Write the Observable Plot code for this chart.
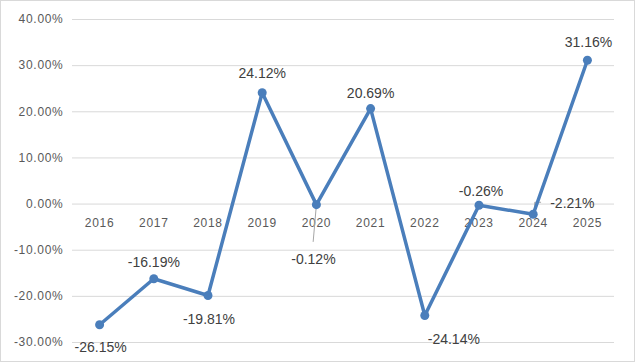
<!DOCTYPE html>
<html>
<head>
<meta charset="utf-8">
<script src="https://cdn.jsdelivr.net/npm/d3@7"></script>
<script src="https://cdn.jsdelivr.net/npm/@observablehq/plot@0.6"></script>
<style>
  body { margin: 0; background: #fff; }
  #chart svg { outline: 1px solid #d9d9d9; outline-offset: -1px; display: block; }
  .ticklbl text { letter-spacing: 0.7px; }
</style>
</head>
<body>
<div id="chart"></div>
<script>
const years = ["2016","2017","2018","2019","2020","2021","2022","2023","2024","2025"];
const values = [-26.15, -16.19, -19.81, 24.12, -0.12, 20.69, -24.14, -0.26, -2.21, 31.16];
const yTicks = [-30, -20, -10, 0, 10, 20, 30, 40];

const data = years.map((year, i) => ({year, value: values[i]}));

// label placement (pixel offsets from each point)
const labelDx = [1, 0, 1, 0, -3, 0, 29, 2, 17, 1];
const labelDy = [23, -16, 24, -19, 55, -15, 24, -14, -11, -18];
const labelAnchor = ["middle","middle","middle","middle","middle","middle","middle","middle","start","middle"];
const labels = data.map((d, i) => ({...d, dx: labelDx[i], dy: labelDy[i], anchor: labelAnchor[i]}));

const lineColor = "#4a7ebb";
const font = "'Liberation Sans', Arial, sans-serif";

const textMarks = labels.map(d =>
  Plot.text([d], {x: "year", y: "value", text: v => v.value.toFixed(2) + "%",
    dx: d.dx, dy: d.dy, textAnchor: d.anchor, fill: "#404040", fontSize: 14})
);

const plot = Plot.plot({
  width: 635,
  height: 362,
  marginLeft: 72,
  marginRight: 21,
  marginTop: 19,
  marginBottom: 20,
  style: {fontFamily: font, background: "#fff"},
  x: {type: "point", domain: years, padding: 0.5, round: false, axis: null},
  y: {domain: [-30, 40], axis: null},
  marks: [
    Plot.ruleY(yTicks, {stroke: "#d9d9d9", strokeWidth: 1}),
    Plot.axisY({ticks: yTicks, tickSize: 0, tickPadding: 9, tickFormat: d => d.toFixed(2) + "%",
      fill: "#595959", fontSize: 12, label: null, className: "ticklbl"}),
    Plot.text(years, {x: d => d, y: 0, dy: 19, text: d => d, fill: "#595959", fontSize: 12, className: "ticklbl"}),
    Plot.vector(data.filter(d => d.year === "2020"), {x: "year", y: "value", anchor: "start",
      length: 37, rotate: 185, stroke: "#a6a6a6", strokeWidth: 1,
      shape: {draw(ctx, l) { ctx.moveTo(0, -4); ctx.lineTo(0, -l); }}}),
    Plot.vector(data.filter(d => d.year === "2024"), {x: "year", y: "value", anchor: "start",
      length: 12, rotate: 0, stroke: "#a6a6a6", strokeWidth: 1,
      shape: {draw(ctx, l) { ctx.moveTo(1.5, 0); ctx.lineTo(1.5, -l); ctx.lineTo(7.5, -l); }}}),
    Plot.line(data, {x: "year", y: "value", stroke: lineColor, strokeWidth: 3.5, strokeLinejoin: "round"}),
    Plot.dot(data, {x: "year", y: "value", r: 4.5, fill: lineColor, stroke: "none"}),
    ...textMarks
  ]
});
document.getElementById("chart").appendChild(plot);
</script>
</body>
</html>
